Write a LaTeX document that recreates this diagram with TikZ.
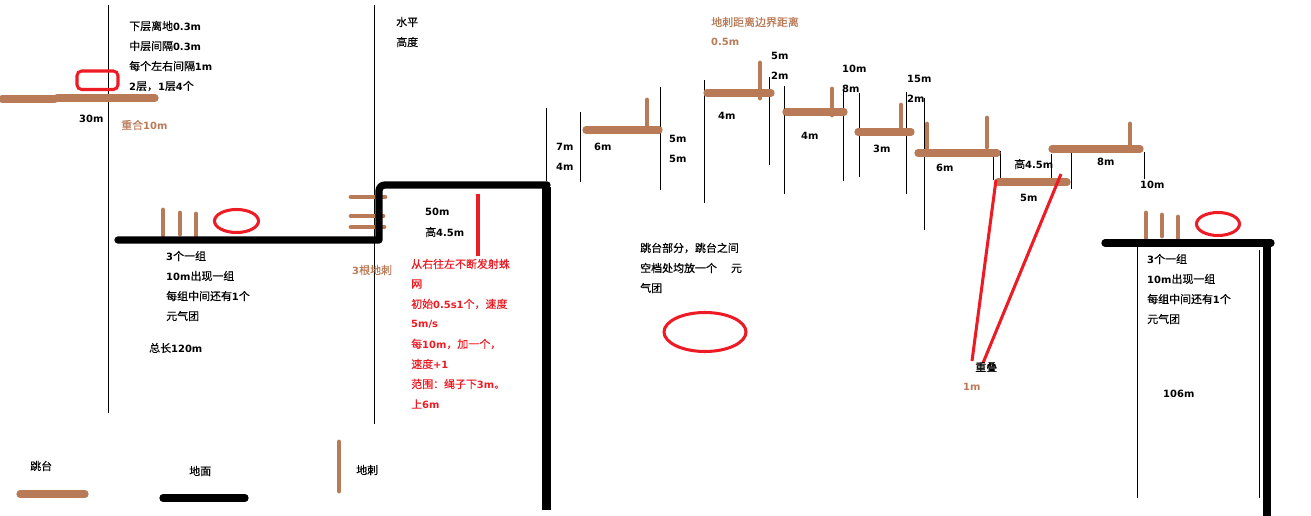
\documentclass[tikz,border=0pt]{standalone}
\usepackage{fontspec}
\setmainfont{DejaVu Sans}
\newfontfamily\cjk{Noto Sans CJK SC}[Scale=1.1,RawFeature={embolden=0.5}]
\newcommand{\zh}[1]{{\cjk\mdseries #1}}
\definecolor{barbrown}{RGB}{185,122,87}
\definecolor{markred}{RGB}{237,28,36}
\tikzset{
  lab/.style={anchor=west,inner sep=0pt,font=\bfseries\fontsize{8.5}{10}\selectfont},
  brownlab/.style={lab,text=barbrown},
  redlab/.style={lab,text=markred},
  dimline/.style={draw=black,line width=0.85pt},
  platform/.style={draw=barbrown,line width=6.2pt,line cap=round},
  spike/.style={draw=barbrown,line width=4.2pt,line cap=round},
  ground/.style={draw=black,line width=6.2pt,line cap=round,line join=round},
  wall/.style={draw=black,line width=7pt},
  redmark/.style={draw=markred,line width=2.6pt}
}
\begin{document}
\begin{tikzpicture}[x=0.03cm,y=-0.03cm]
\useasboundingbox (0,0) rectangle (1311,516);

\foreach \x/\a/\b in {108/5/413,374.5/5/424,546/108/181,580.5/112/182,660/87/190,704/80/203,769/77/165,784/86/194,843/90/181,859/93/177,906/92/194,924/98/230,993/151/180,1000/151/181,1051/154/184,1071/153/189,1144/152/179,1137/245/498,1259/250/498}
\draw[dimline] (\x,\a) -- (\x,\b);

\foreach \xa/\xb/\y in {2/55/99,57/155/98,586/659/130,707/771/93,786/844/112,858/911/132,918/997/153,998/1067/182,1052/1140/149,20/85/494}
\draw[platform] (\xa,\y) -- (\xb,\y);

\foreach \x/\a/\b in {163/210/237,180/213/234,196/214/237,647/100/130,760/63/98,832/89/115,901/105/132,927/124/153,987/118/147,1130/124/146,1146/213/240,1162/215/236,1178/217/240,339/442/491}
\draw[spike] (\x,\a) -- (\x,\b);
\foreach \y/\a/\b in {197/351/385,216/351/383,227/351/384}
\draw[spike] (\a,\y) -- (\b,\y);

\draw[ground] (118,240) -- (379,240) -- (379,193) [rounded corners=5pt] -- (379,185) -- (547,185);
\draw[wall] (546.5,187) -- (546.5,510);
\draw[ground] (1105,243) -- (1271,243);
\draw[wall] (1267,243) -- (1267,516);
\draw[ground] (163,498) -- (245,498);

\draw[redmark,rounded corners=4pt] (77,71) rectangle (118,89.5);
\foreach \x/\y/\a/\b in {236.5/221/22/11.5,1218/224/21.5/11.5,705/332/41/19.5}
\draw[redmark] (\x,\y) ellipse [x radius=\a,y radius=\b];
\draw[redmark] (478,194) -- (478,256);
\draw[redmark] (996,180) -- (972,361);
\draw[redmark] (1061,174) -- (983,363);

\foreach \n/\x/\y/\t in {
a/129/26/{\zh{下层离地}0.3m},
b/129/46/{\zh{中层间隔}0.3m},
c/129/66/{\zh{每个左右间隔}1m},
d/129/86/{2\zh{层，}1\zh{层}4\zh{个}},
e/79/119/{30m},
f/166/256/{3\zh{个一组}},
g/166/276/{10m\zh{出现一组}},
h/166/296/{\zh{每组中间还有}1\zh{个}},
i/166/316/{\zh{元气团}},
j/149/348/{\zh{总长}120m},
k/396/22/{\zh{水平}},
l/396/42/{\zh{高度}},
m/425/212/{50m},
o/425/232/{\zh{高}4.5m},
p/640/248/{\zh{跳台部分，跳台之间}},
q/640/268/{\zh{空档处均放一个}\hspace{12pt}\zh{元}},
r/640/288/{\zh{气团}},
s/771/56/{5m},
t/771/76/{2m},
u/842/69/{10m},
v/842/89/{8m},
w/907/79/{15m},
x/907/99/{2m},
y/556/147/{7m},
z/556/167/{4m},
aa/594/147/{6m},
ab/669/139/{5m},
ac/669/159/{5m},
ad/718/116/{4m},
ae/801/136/{4m},
af/873/149/{3m},
ag/936/168/{6m},
ah/1014/164/{\zh{高}4.5m},
ai/1020/198/{5m},
aj/1097/162/{8m},
ak/1140/185/{10m},
al/1147/259/{3\zh{个一组}},
am/1147/279/{10m\zh{出现一组}},
an/1147/299/{\zh{每组中间还有}1\zh{个}},
ao/1147/319/{\zh{元气团}},
ap/975/367/{\zh{重叠}},
aq/1163/394/{106m},
ar/30/466/{\zh{跳台}},
as/189/471/{\zh{地面}},
at/356/470/{\zh{地刺}}}
\node[lab] (lab\n) at (\x,\y) {\t};

\foreach \n/\x/\y/\t in {
a/121/125/{\zh{重合}10m},
b/352/270/{3\zh{根地刺}},
c/711/22/{\zh{地刺距离边界距离}},
d/711/42/{0.5m},
e/963/387/{1m}}
\node[brownlab] (brown\n) at (\x,\y) {\t};

\foreach \n/\y/\t in {
a/264/{\zh{从右往左不断发射蛛}},
b/284/{\zh{网}},
c/304/{\zh{初始}0.5s1\zh{个，速度}},
d/324/{5m/s},
e/344/{\zh{每}10m\zh{，加一个，}},
f/364/{\zh{速度}+1},
g/384/{\zh{范围：绳子下}3m\zh{。}},
h/404/{\zh{上}6m}}
\node[redlab] (red\n) at (411,\y) {\t};
\end{tikzpicture}
\end{document}
